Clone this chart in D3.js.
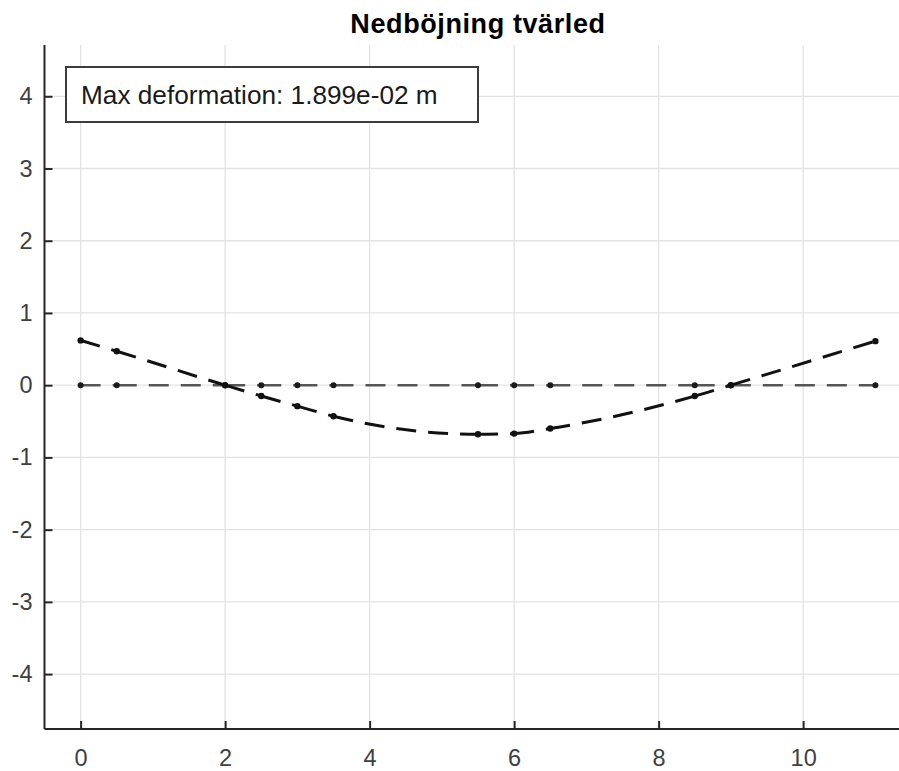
<!DOCTYPE html>
<html>
<head>
<meta charset="utf-8">
<script src="https://cdn.jsdelivr.net/npm/d3@7/dist/d3.min.js"></script>
<style>
  html, body { margin: 0; padding: 0; background: #fff; }
  svg { display: block; }
  text { font-family: "Liberation Sans", Arial, Helvetica, sans-serif; }
</style>
</head>
<body>
<svg id="chart" width="899" height="771"></svg>
<script>
// ---- data ----
const titleText = "Nedböjning tvärled";
const annotationText = "Max deformation: 1.899e-02 m";
const nodeX = [0, 0.5, 2, 2.5, 3, 3.5, 5.5, 6, 6.5, 8.5, 9, 11];
const undeformedY = [0, 0, 0, 0, 0, 0, 0, 0, 0, 0, 0, 0];
const deformedY = [0.62, 0.47, 0, -0.15, -0.29, -0.43, -0.68, -0.67, -0.60, -0.15, 0, 0.61];
const xTicks = [0, 2, 4, 6, 8, 10];
const yTicks = [-4, -3, -2, -1, 0, 1, 2, 3, 4];
const xDomain = [-0.5, 11.5];
const yDomain = [-4.76, 4.71];

// ---- layout ----
const W = 899, H = 771;
const plot = { left: 44.5, top: 45, bottom: 729, right: 911.5 };
const svg = d3.select("#chart");

const x = d3.scaleLinear().domain(xDomain).range([plot.left, plot.right]);
const y = d3.scaleLinear().domain(yDomain).range([plot.bottom, plot.top]);

const axisColor = "#262626";
const labelColor = "#404040";

// grid
const grid = svg.append("g");
grid.selectAll("line.vx").data(xTicks).join("line")
  .attr("x1", d => x(d)).attr("x2", d => x(d))
  .attr("y1", plot.top).attr("y2", plot.bottom)
  .attr("stroke", "#e3e3e3").attr("stroke-width", 1.3);
grid.selectAll("line.hy").data(yTicks).join("line")
  .attr("y1", d => y(d)).attr("y2", d => y(d))
  .attr("x1", plot.left).attr("x2", W)
  .attr("stroke", "#e3e3e3").attr("stroke-width", 1.3);

// axes
const xAxis = d3.axisBottom(x).tickValues(xTicks).tickSizeInner(-8).tickSizeOuter(0).tickPadding(18);
const yAxis = d3.axisLeft(y).tickValues(yTicks).tickSizeInner(-8).tickSizeOuter(0).tickPadding(18)
  .tickFormat(d => d3.format("d")(d).replace("−", "-"));

const gx = svg.append("g").attr("transform", `translate(0,${plot.bottom})`).call(xAxis);
const gy = svg.append("g").attr("transform", `translate(${plot.left},0)`).call(yAxis);
[gx, gy].forEach(g => {
  g.select(".domain").attr("stroke", axisColor).attr("stroke-width", 2);
  g.selectAll(".tick line").attr("stroke", axisColor).attr("stroke-width", 2);
  g.selectAll(".tick text").attr("fill", labelColor).style("font-size", "23.5px");
});
gy.select(".domain").attr("d", `M0,${plot.top}V${plot.bottom}`);
gx.select(".domain").attr("d", `M${plot.left},0H${W}`);
gx.selectAll(".tick text").attr("dy", null).attr("y", 37);
gy.selectAll(".tick text").attr("x", -12);

// series data
const undeformed = nodeX.map((v, i) => ({ x: v, y: undeformedY[i] }));
const deformed = nodeX.map((v, i) => ({ x: v, y: deformedY[i] }));

const dashOn = 20, dashOff = 12;

// undeformed: one dashed line per element (dash restarts at each node)
const straight = d3.line().x(d => x(d.x)).y(d => y(d.y));
const elems = d3.range(undeformed.length - 1).map(i => [undeformed[i], undeformed[i + 1]]);
svg.append("g").selectAll("path").data(elems).join("path")
  .attr("d", straight)
  .attr("fill", "none").attr("stroke", "#555").attr("stroke-width", 2.6)
  .attr("stroke-dasharray", `${dashOn},${dashOff}`);

svg.append("g").selectAll("circle").data(undeformed).join("circle")
  .attr("cx", d => x(d.x)).attr("cy", d => y(d.y)).attr("r", 3)
  .attr("fill", "#1a1a1a");

// deformed: smooth curve, dash pattern restarts at every node
const curved = d3.line().x(d => x(d.x)).y(d => y(d.y)).curve(d3.curveMonotoneX);
const defPath = svg.append("path")
  .attr("d", curved(deformed))
  .attr("fill", "none").attr("stroke", "#111").attr("stroke-width", 3)
  .attr("stroke-linecap", "butt");
const pn = defPath.node();
const total = pn.getTotalLength();
function lengthAtX(px) {
  let lo = 0, hi = total;
  for (let k = 0; k < 40; k++) {
    const mid = (lo + hi) / 2;
    if (pn.getPointAtLength(mid).x < px) lo = mid; else hi = mid;
  }
  return (lo + hi) / 2;
}
const nodeLen = deformed.map(d => lengthAtX(x(d.x)));
nodeLen[0] = 0; nodeLen[nodeLen.length - 1] = total;
const dashes = [];
for (let i = 0; i < nodeLen.length - 1; i++) {
  let seg = nodeLen[i + 1] - nodeLen[i];
  let on = true;
  while (seg > 0.01) {
    const len = Math.min(on ? dashOn : dashOff, seg);
    dashes.push(len);
    seg -= len;
    on = !on;
  }
  if (!on) { dashes.push(0); }
}
if (dashes.length % 2 === 1) dashes.push(0);
defPath.attr("stroke-dasharray", dashes.map(v => v.toFixed(2)).join(","));

svg.append("g").selectAll("circle").data(deformed).join("circle")
  .attr("cx", d => x(d.x)).attr("cy", d => y(d.y)).attr("r", 3.2)
  .attr("fill", "#111");

// annotation box
const box = svg.append("g");
box.append("rect").attr("x", 66).attr("y", 67).attr("width", 412).attr("height", 55)
  .attr("fill", "#fff").attr("stroke", "#3c3c3c").attr("stroke-width", 2);
box.append("text").attr("x", 81).attr("y", 103.5)
  .attr("fill", "#1a1a1a").style("font-size", "26.2px")
  .text(annotationText);

// title
svg.append("text").attr("x", 478).attr("y", 33).attr("text-anchor", "middle")
  .attr("fill", "#000").style("font-size", "27px").style("font-weight", "bold")
  .style("letter-spacing", "0.6px")
  .text(titleText);
</script>
</body>
</html>
